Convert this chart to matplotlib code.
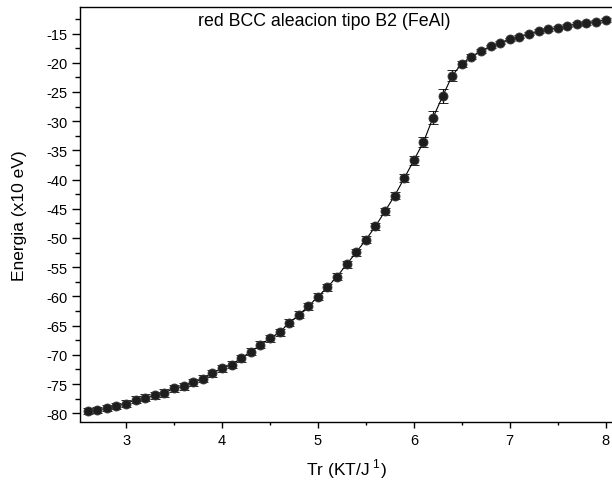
import numpy as np
import matplotlib
matplotlib.use("Agg")
import matplotlib.pyplot as plt
from matplotlib.ticker import MultipleLocator

plt.rcParams["font.family"] = ["Liberation Sans", "DejaVu Sans"]
plt.rcParams["mathtext.fontset"] = "custom"
plt.rcParams["mathtext.rm"] = "Liberation Sans"
plt.rcParams["axes.unicode_minus"] = False

# temperatura reducida (KT/J)
temp = [2.6, 2.7, 2.8, 2.9, 3.0, 3.1, 3.2, 3.3, 3.4, 3.5,
        3.6, 3.7, 3.8, 3.9, 4.0, 4.1, 4.2, 4.3, 4.4, 4.5,
        4.6, 4.7, 4.8, 4.9, 5.0, 5.1, 5.2, 5.3, 5.4, 5.5,
        5.6, 5.7, 5.8, 5.9, 6.0, 6.1, 6.2, 6.3, 6.4, 6.5,
        6.6, 6.7, 6.8, 6.9, 7.0, 7.1, 7.2, 7.3, 7.4, 7.5,
        7.6, 7.7, 7.8, 7.9, 8.0]

# energia (x10 eV)
energia = [-79.6, -79.45, -79.16, -78.77, -78.37, -77.7, -77.35, -76.94, -76.54, -75.74,
           -75.4, -74.7, -74.14, -73.2, -72.3, -71.7, -70.55, -69.5, -68.3, -67.18,
           -66.15, -64.55, -63.18, -61.7, -60.05, -58.4, -56.6, -54.5, -52.45, -50.3,
           -48.0, -45.4, -42.75, -39.78, -36.7, -33.6, -29.4, -25.74, -22.2, -20.15,
           -18.98, -17.98, -17.18, -16.55, -15.98, -15.53, -15.0, -14.6, -14.26, -13.99,
           -13.65, -13.4, -13.18, -12.96, -12.67]

# barras de error
error = [0.5, 0.5, 0.5, 0.5, 0.6, 0.6, 0.6, 0.6, 0.6, 0.6,
         0.6, 0.6, 0.6, 0.6, 0.6, 0.6, 0.6, 0.6, 0.6, 0.6,
         0.6, 0.6, 0.6, 0.6, 0.6, 0.6, 0.6, 0.6, 0.6, 0.6,
         0.6, 0.6, 0.6, 0.7, 0.8, 0.9, 1.1, 1.2, 1.0, 0.5,
         0.4, 0.3, 0.3, 0.3, 0.3, 0.3, 0.3, 0.3, 0.3, 0.3,
         0.3, 0.3, 0.3, 0.3, 0.3]

fig = plt.figure(figsize=(6.12, 4.85), dpi=100)
ax = fig.add_axes([80 / 612, 62.5 / 485, 532 / 612, 414.5 / 485])

ax.errorbar(temp, energia, yerr=error, fmt="o-", color="black", lw=0.8,
            ms=6.5, mfc="#1e1e1e", mec="#3a3a3a", mew=0.6,
            ecolor="black", elinewidth=0.8, capsize=3.8, capthick=0.8)

ax.set_xlim(2.52, 8.066)
ax.set_ylim(-81.42, -10.45)
ax.xaxis.set_major_locator(MultipleLocator(1))
ax.xaxis.set_minor_locator(MultipleLocator(0.5))
ax.yaxis.set_major_locator(MultipleLocator(5))
ax.yaxis.set_minor_locator(MultipleLocator(2.5))

ax.spines["right"].set_visible(False)
for s in ["left", "bottom", "top"]:
    ax.spines[s].set_linewidth(1.0)

ax.tick_params(axis="x", which="major", direction="out", length=4.5, width=1.0,
               labelsize=10.5, pad=4)
ax.tick_params(axis="x", which="minor", direction="out", length=2.5, width=1.0)
ax.tick_params(axis="y", which="major", direction="out", length=5.8, width=1.0,
               labelsize=10.5, pad=3)
ax.tick_params(axis="y", which="minor", direction="out", length=3.6, width=1.0)

ax.set_xlabel(r"Tr (KT/J$^{\ 1}$)", fontsize=12.5)
ax.set_ylabel("Energia (x10 eV)", fontsize=12.5)
ax.xaxis.set_label_coords(0.5, -0.085)
ax.yaxis.set_label_coords(-0.1, 0.5)

ax.text(0.459, 0.957, "red BCC aleacion tipo B2 (FeAl)", transform=ax.transAxes,
        ha="center", va="baseline", fontsize=12.8)

fig.savefig("out.png", dpi=100)
